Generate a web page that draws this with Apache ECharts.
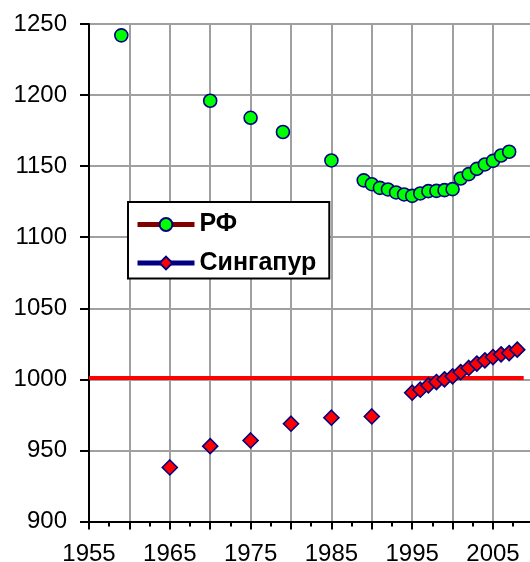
<!DOCTYPE html>
<html>
<head>
<meta charset="utf-8">
<script src="https://cdn.jsdelivr.net/npm/echarts@6/dist/echarts.min.js"></script>
<style>
html,body{margin:0;padding:0;background:#fff;}
#chart{width:530px;height:562px;}
</style>
</head>
<body>
<div id="chart"></div>
<script>
const rfYears = [1959, 1970, 1975, 1979, 1985, 1989, 1990, 1991, 1992, 1993, 1994, 1995, 1996, 1997, 1998, 1999, 2000, 2001, 2002, 2003, 2004, 2005, 2006, 2007];
const rfValues = [1242, 1196, 1184, 1174, 1154, 1140, 1137.3, 1134.7, 1133.6, 1131.5, 1130.1, 1129.1, 1130.8, 1132.4, 1132.6, 1133.1, 1133.8, 1141.3, 1144.4, 1148.1, 1151.2, 1153.7, 1157.5, 1160.1];
const sgYears = [1965, 1970, 1975, 1980, 1985, 1990, 1995, 1996, 1997, 1998, 1999, 2000, 2001, 2002, 2003, 2004, 2005, 2006, 2007, 2008];
const sgValues = [938, 953, 957, 968.8, 973, 973.9, 990.6, 992.7, 995.8, 998.1, 1000, 1002.1, 1005.1, 1008, 1011.1, 1013.4, 1015.7, 1017.6, 1018.5, 1020.9];
const refLineYears = [1955, 2008.8];
const refLineValues = [1001, 1001];
const seriesNames = ['РФ', 'Сингапур'];

const zip = (a, b) => a.map((v, i) => [v, b[i]]);
const FONT = 'Liberation Sans, Arial, sans-serif';

const chart = echarts.init(document.getElementById('chart'), null, {renderer: 'canvas'});
chart.setOption({
  animation: false,
  backgroundColor: '#ffffff',
  grid: {left: 89, top: 24, right: -3.4, bottom: 40.5, containLabel: false, outerBoundsMode: 'none'},
  xAxis: {
    type: 'value', min: 1955, max: 2010, interval: 5,
    axisLine: {show: true, onZero: false, lineStyle: {color: '#000', width: 2}},
    axisTick: {show: true, length: 8, lineStyle: {color: '#000', width: 2}},
    minorTick: {show: true, splitNumber: 2, length: 5, lineStyle: {color: '#000', width: 2}},
    splitLine: {show: true, lineStyle: {color: '#a0a0a0', width: 2}},
    axisLabel: {
      margin: 21, color: '#000', fontFamily: FONT, fontSize: 24,
      showMaxLabel: false,
      formatter: v => ((v - 1955) % 10 === 0 ? String(v) : '')
    }
  },
  yAxis: {
    type: 'value', min: 900, max: 1250, interval: 50,
    axisLine: {show: true, onZero: false, lineStyle: {color: '#000', width: 2}},
    axisTick: {show: true, length: 9, lineStyle: {color: '#000', width: 2}},
    splitLine: {show: true, lineStyle: {color: '#a0a0a0', width: 2}},
    axisLabel: {margin: 22, color: '#000', fontFamily: FONT, fontSize: 24, formatter: v => String(v)}
  },
  legend: {
    orient: 'vertical', left: 128, top: 202,
    padding: [10, 13, 3, 7],
    itemGap: 13.5, itemWidth: 57, itemHeight: 16,
    backgroundColor: '#fff', borderColor: '#000', borderWidth: 2, borderRadius: 0,
    textStyle: {fontFamily: FONT, fontSize: 25, fontWeight: 'bold', color: '#000'},
    data: [
      {name: seriesNames[0], lineStyle: {color: '#800000', width: 5, opacity: 1}},
      {name: seriesNames[1], lineStyle: {color: '#000080', width: 5, opacity: 1}}
    ]
  },
  series: [
    {
      type: 'line', name: 'ref', data: zip(refLineYears, refLineValues),
      symbol: 'none', silent: true, z: 1,
      lineStyle: {color: '#ff0000', width: 4}
    },
    {
      type: 'line', name: seriesNames[0], data: zip(rfYears, rfValues),
      symbol: 'circle', symbolSize: 13, showAllSymbol: true, z: 3,
      lineStyle: {width: 0, opacity: 0, color: '#800000'},
      itemStyle: {color: '#00ff00', borderColor: '#000080', borderWidth: 1.6}
    },
    {
      type: 'line', name: seriesNames[1], data: zip(sgYears, sgValues),
      symbol: 'diamond', symbolSize: 15, showAllSymbol: true, z: 3,
      lineStyle: {width: 0, opacity: 0, color: '#000080'},
      itemStyle: {color: '#ff0000', borderColor: '#000080', borderWidth: 1.6}
    }
  ]
});
</script>
</body>
</html>
